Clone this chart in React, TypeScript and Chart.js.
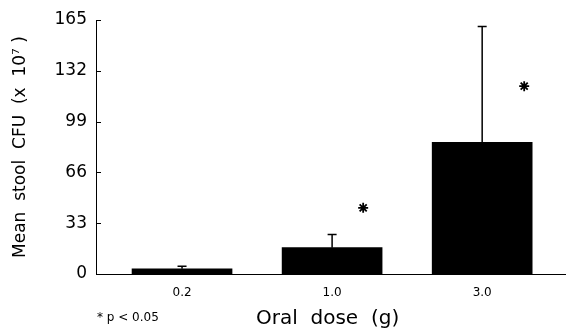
import { useEffect, useRef } from 'react';
import { Chart, registerables } from 'chart.js';
Chart.register(...registerables);

const doseLabels = ['0.2', '1.0', '3.0'];
const dosePositions = [1, 2, 3];
const meanCFU = [3.4, 17.1, 85.6];
const upperError = [5.0, 25.6, 160.7];
const sigX = [2.207, 3.28];
const sigY = [43, 122];
const yTickValues = [0, 33, 66, 99, 132, 165];
const footnote = '* p < 0.05';
const yTitle = 'Mean  stool  CFU  (x  10\u2077 )';
const xTitle = 'Oral  dose  (g)';

const FONT = "'DejaVu Sans', sans-serif";

const extrasPlugin = {
  id: 'extras',
  afterDatasetsDraw(chart: any) {
    const { ctx, scales, chartArea } = chart;
    const xs = scales.x;
    const ys = scales.y;
    ctx.save();
    ctx.strokeStyle = '#000';
    ctx.lineWidth = 1.5;
    dosePositions.forEach((p, i) => {
      const x = xs.getPixelForValue(p);
      const y0 = ys.getPixelForValue(meanCFU[i]);
      const y1 = ys.getPixelForValue(upperError[i]);
      ctx.beginPath();
      ctx.moveTo(x, y0);
      ctx.lineTo(x, y1);
      ctx.moveTo(x - 4.5, y1);
      ctx.lineTo(x + 4.5, y1);
      ctx.stroke();
    });
    ctx.lineWidth = 1;
    const ax = chartArea.left;
    yTickValues.forEach((v) => {
      const y = Math.round(ys.getPixelForValue(v)) + 0.5;
      ctx.beginPath();
      ctx.moveTo(ax, y);
      ctx.lineTo(ax + 5, y);
      ctx.stroke();
    });
    // extend baseline to the right edge
    const by = Math.round(chartArea.bottom) + 0.5;
    ctx.beginPath();
    ctx.moveTo(chartArea.right - 1, by);
    ctx.lineTo(chart.width, by);
    ctx.stroke();
    ctx.fillStyle = '#000';
    ctx.font = `12px ${FONT}`;
    ctx.textBaseline = 'middle';
    ctx.textAlign = 'left';
    ctx.fillText(footnote, 97, 318);
    ctx.restore();
  },
};

export default function App() {
  const ref = useRef<HTMLCanvasElement>(null);
  useEffect(() => {
    if (!ref.current) return;
    const chart = new Chart(ref.current, {
      type: 'bar',
      data: {
        datasets: [
          {
            type: 'bar',
            data: dosePositions.map((p, i) => ({ x: p, y: meanCFU[i] })),
            backgroundColor: '#000',
            borderWidth: 0,
            barThickness: 100,
          } as any,
          {
            type: 'scatter',
            data: sigX.map((x, i) => ({ x, y: sigY[i] })),
            pointStyle: 'star',
            radius: 5,
            borderWidth: 1.8,
            borderColor: '#000',
            backgroundColor: '#000',
          } as any,
        ],
      },
      options: {
        animation: false,
        responsive: false,
        layout: { padding: { top: 20, left: 0, right: 0, bottom: 0 } },
        plugins: { legend: { display: false }, tooltip: { enabled: false } },
        scales: {
          x: {
            type: 'linear',
            offset: false,
            min: 0.4267,
            max: 3.5133,
            grid: { display: false, drawTicks: false, offset: false },
            border: { display: true, color: '#000', width: 1 },
            afterBuildTicks: (s: any) => {
              s.ticks = dosePositions.map((v) => ({ value: v }));
            },
            afterFit: (s: any) => {
              s.height = 55;
            },
            ticks: {
              color: '#000',
              padding: 12,
              font: { family: FONT, size: 12 },
              callback: (v: any) => doseLabels[dosePositions.indexOf(v)] ?? '',
            },
            title: {
              display: true,
              text: xTitle,
              color: '#000',
              font: { family: FONT, size: 20 },
              padding: { top: 0, bottom: -2 },
            },
          },
          y: {
            min: 0,
            max: 165,
            grid: { display: false, drawTicks: false },
            border: { display: true, color: '#000', width: 1 },
            afterBuildTicks: (s: any) => {
              s.ticks = yTickValues.map((v) => ({ value: v }));
            },
            afterFit: (s: any) => {
              s.width = 96;
            },
            ticks: {
              color: '#000',
              padding: 9,
              font: { family: FONT, size: 17 },
            },
            title: {
              display: true,
              text: yTitle,
              color: '#000',
              font: { family: FONT, size: 17 },
              padding: { top: 10, bottom: 0 },
            },
          },
        },
      },
      plugins: [extrasPlugin],
    });
    return () => chart.destroy();
  }, []);
  return (
    <div style={{ position: 'fixed', left: 0, top: 0, width: 566, height: 329, background: '#fff' }}>
      <canvas ref={ref} width={566} height={329} />
    </div>
  );
}
